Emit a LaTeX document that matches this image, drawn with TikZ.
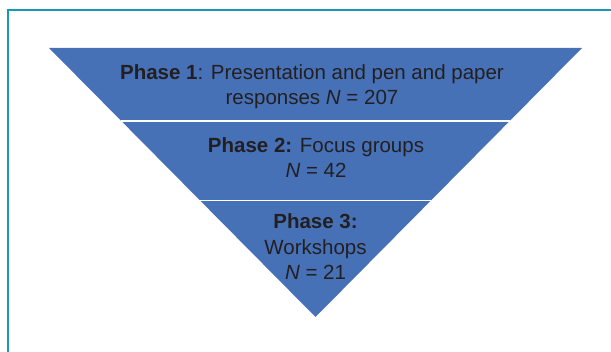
\documentclass[tikz,border=0pt]{standalone}
\usepackage{fontspec}
\setmainfont{Liberation Sans}
\usetikzlibrary{calc}
\definecolor{framecol}{RGB}{24,152,182}
\definecolor{phasecol}{RGB}{70,113,183}
\definecolor{inkcol}{RGB}{35,31,32}

\begin{document}
\begin{tikzpicture}[x=1pt, y=-1pt,
            phase/.style={text=inkcol, align=center, inner sep=0pt, anchor=base,
            font=\fontsize{20.5}{25.5}\selectfont},
            divider/.style={draw=white, line width=1.5pt}]
            \clip (0,0) rectangle (611,352);
            \draw [framecol, line width=2pt] (8,10) rectangle (640,380);

            % funnel
            \coordinate (tl) at (49,48);
            \coordinate (tr) at (582,48);
            \coordinate (apex) at (315.5,317);
            \fill [phasecol] (tl) -- (tr) -- (apex) -- cycle;
            \draw [divider] ($(tl)!0.2714!(apex)$) -- ($(tr)!0.2714!(apex)$);
            \draw [divider] ($(tl)!0.5675!(apex)$) -- ($(tr)!0.5675!(apex)$);

            % last line of each node sits on the given baseline
            \node (phase1) [phase] at (312,105) {\textbf{Phase 1}: Presentation and pen and paper\\ responses \textit{N} = 207};
            \node (phase2) [phase] at (316,178) {\textbf{Phase 2:} Focus groups\\ \textit{N} = 42};
            \node (phase3) [phase] at (315.5,280) {\textbf{Phase 3:}\\ Workshops\\ \textit{N} = 21};
        \end{tikzpicture}
\end{document}
